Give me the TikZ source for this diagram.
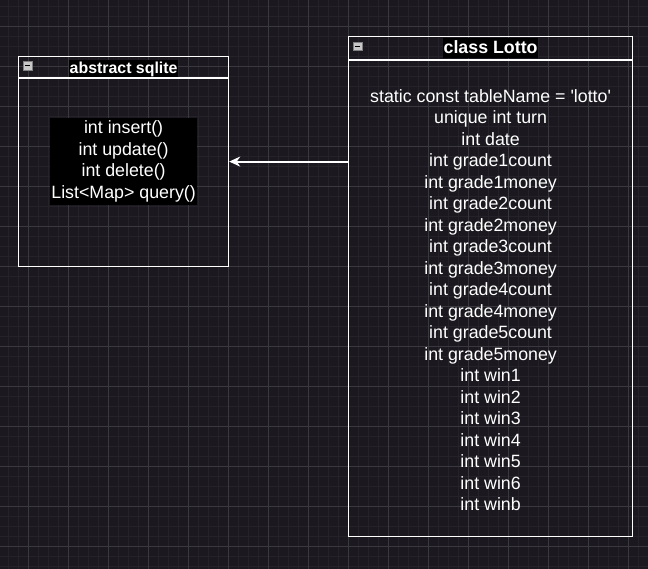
\documentclass[tikz,border=0pt]{standalone}
\usepackage{fontspec}
\setmainfont{Liberation Sans}[Ligatures=TeXOff]
\usetikzlibrary{arrows.meta, positioning, calc}

\definecolor{canvasbg}{RGB}{27,25,31}
\definecolor{minorline}{RGB}{37,35,41}
\definecolor{majorline}{RGB}{58,57,63}
\definecolor{togglegray}{RGB}{200,200,200}

\begin{document}
\begin{tikzpicture}[
    x=1pt, y=-1pt,
    classbox/.style={rectangle, draw=white, line width=1.2pt, anchor=north west, inner sep=0pt},
    classtitle/.style={fill=black, text=white, inner sep=0.5pt},
    members/.style={align=center, text=white, inner sep=0pt, font=\fontsize{17.8}{21.5}\selectfont},
    toggle/.style={rectangle, draw=gray, fill=togglegray, minimum width=9pt, minimum height=8.5pt, inner sep=0pt,
        path picture={\draw[black, line width=1pt] ([xshift=2pt]path picture bounding box.west) -- ([xshift=-2pt]path picture bounding box.east);}},
    inherit/.style={-{Stealth[length=11pt, width=10pt]}, white, line width=2pt}
]
    % Canvas and grid
    \fill[canvasbg] (0,0) rectangle (648,569);
    \useasboundingbox (0,0) rectangle (648,569);
    \foreach \gx in {8,18,...,648} \draw[minorline, line width=0.6pt] (\gx,0) -- (\gx,569);
    \foreach \gy in {6,16,...,569} \draw[minorline, line width=0.6pt] (0,\gy) -- (648,\gy);
    \foreach \gx in {28,68,...,648} \draw[majorline, line width=0.8pt] (\gx,0) -- (\gx,569);
    \foreach \gy in {26,66,...,569} \draw[majorline, line width=0.8pt] (0,\gy) -- (648,\gy);

    % Class boxes
    \node (sqlite) [classbox, minimum width=210pt, minimum height=210pt] at (18,56) {};
    \node (lotto) [classbox, minimum width=284pt, minimum height=500pt] at (348,36) {};
    \draw[white, line width=1.2pt] ([yshift=-22pt]sqlite.north west) -- ([yshift=-22pt]sqlite.north east);
    \draw[white, line width=1.2pt] ([yshift=-24pt]lotto.north west) -- ([yshift=-24pt]lotto.north east);

    % Headers
    \node (sqlitetoggle) [toggle] at ([xshift=9.5pt, yshift=-9.5pt]sqlite.north west) {};
    \node (lottotoggle) [toggle] at ([xshift=9.7pt, yshift=-10.2pt]lotto.north west) {};
    \node (sqlitetitle) [classtitle, font=\bfseries\fontsize{15.9}{19}\selectfont, text height=13.5pt, text depth=2.6pt]
        at ([yshift=-12.3pt]sqlite.north) {abstract sqlite};
    \node (lottotitle) [classtitle, font=\bfseries\fontsize{17.8}{21}\selectfont, text height=15.4pt, text depth=4pt]
        at ([yshift=-12.3pt]lotto.north) {class Lotto};

    % Members
    \node (sqliteops) [members, fill=black, inner xsep=1.5pt, inner ysep=3pt] at (sqlite.center)
        {int insert()\\int update()\\int delete()\\List<Map> query()};
    \node (lottofields) [members, anchor=north] at ([yshift=-53pt]lotto.north)
        {static const tableName = 'lotto'\\unique int turn\\int date\\
         int grade1count\\int grade1money\\int grade2count\\int grade2money\\
         int grade3count\\int grade3money\\int grade4count\\int grade4money\\
         int grade5count\\int grade5money\\
         int win1\\int win2\\int win3\\int win4\\int win5\\int win6\\int winb};

    % Inheritance
    \draw[inherit] (lotto.west |- sqlite.east) -- (sqlite.east);
\end{tikzpicture}
\end{document}
